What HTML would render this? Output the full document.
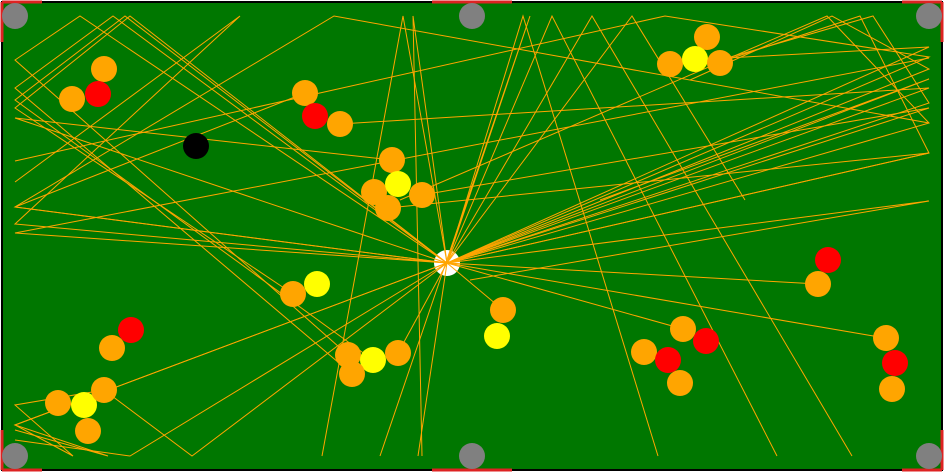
<!DOCTYPE html>
<html><head><meta charset="utf-8"><style>
html,body{margin:0;padding:0;background:#fff;width:945px;height:473px;overflow:hidden}
svg{display:block}
</style></head><body>
<svg id="table" width="945" height="473" viewBox="0 0 945 473" xmlns="http://www.w3.org/2000/svg">
<rect x="2" y="2" width="940" height="468" fill="#007700" stroke="#000" stroke-width="2"/>
<g id="rails" stroke="#dd2222" stroke-width="3" fill="none">
<path d="M2 2 H42 M2 2 V42"/><path d="M432 2 H512"/><path d="M902 2 H942 M942 2 V42"/>
<path d="M2 470 H42 M2 430 V470"/><path d="M432 470 H512"/><path d="M902 470 H942 M942 430 V470"/>
</g>
<g id="pockets"></g>
<g id="paths" fill="none" stroke="#ffa500" stroke-width="1"></g>
<g id="balls"></g>
</svg>
<script>
const cue=[447,263];
const pocketX=[15,472,929];
const pocketY=[16,456];
const ballX=[104,72,98,305,315,340,196,392,374,398,422,388,707,670,695,720,317,293,503,497,131,112,58,84,104,88,348,373,398,352,683,644,668,706,680,828,818,886,895,892];
const ballY=[69,99,94,93,116,124,146,160,192,184,195,208,37,64,59,63,284,294,310,336,330,348,403,405,390,431,355,360,353,374,329,352,360,341,383,260,284,338,363,389];
const ballC=["o","o","r","o","r","o","k","o","o","y","o","o","o","o","y","o","y","o","o","y","r","o","o","y","o","o","o","y","o","o","o","o","r","r","o","r","o","o","r","o"];
const pathPts=[
"403,16 322,456","413,16 422,456","418,456","523,16 658,456","530,16 380,456","552,16 777,456","592,16 852,456","632,16 745,200",
"929,57 665,16 15,161","929,69 832,16 690,80","929,103 873,16 720,60","929,123 827,16 400,200","929,153 860,16 720,62","929,201 470,280",
"929,47 690,60","929,88 340,124","929,79 600,200",
"80,16 15,60 348,355","113,16 15,88 352,374","125,16 15,100 373,360","130,16 15,108 293,294",
"15,207 334,16 929,123","15,224 240,16 15,182",
"15,425 73,456 15,405 104,390","15,425 108,456 15,430","130,456 15,440","192,456 104,390","818,284","885,338","683,329","503,310","398,353",
"15,118 392,160","15,233 929,58","15,207 305,93","929,108 422,195","929,153 388,208"
];
const colors={o:"#ffa500",r:"#ff0000",y:"#ffff00",k:"#000000"};
const NS="http://www.w3.org/2000/svg";
const pg=document.getElementById('pockets');
pocketY.forEach(py=>pocketX.forEach(px=>{
const c=document.createElementNS(NS,'circle');


c.setAttribute('cx',px);c.setAttribute('cy',py);c.setAttribute('r',13);c.setAttribute('fill','#808080');pg.appendChild(c);}));
const gp=document.getElementById('paths');
pathPts.forEach(s=>{
const p=document.createElementNS(NS,'polyline');


p.setAttribute('points',cue.join(',')+' '+s);gp.appendChild(p);});
const gb=document.getElementById('balls');
ballX.forEach((x,i)=>{
const c=document.createElementNS(NS,'circle');


c.setAttribute('cx',x);c.setAttribute('cy',ballY[i]);c.setAttribute('r',13);c.setAttribute('fill',colors[ballC[i]]);gb.appendChild(c);});
const cb=document.createElementNS(NS,'circle');


cb.setAttribute('cx',cue[0]);cb.setAttribute('cy',cue[1]);cb.setAttribute('r',13);cb.setAttribute('fill','#ffffff');
document.getElementById('table').insertBefore(cb,gp);
</script>
</body></html>
